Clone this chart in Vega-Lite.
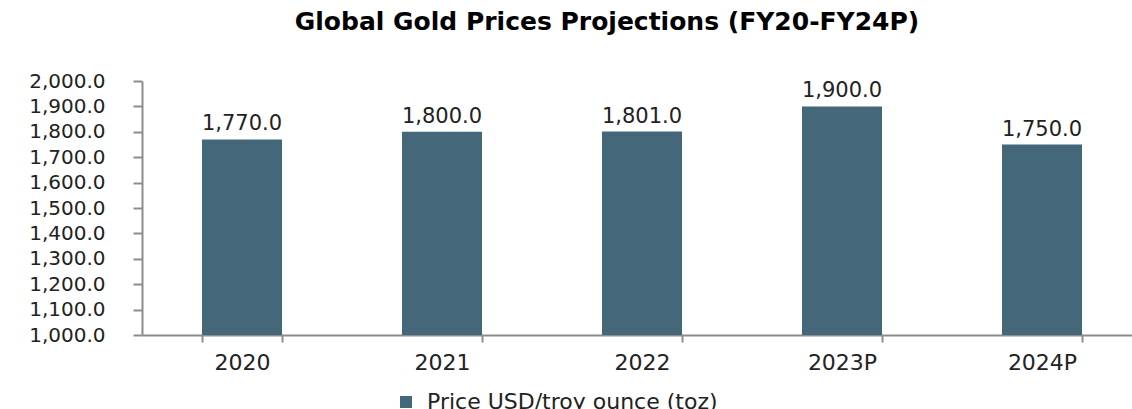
{
  "$schema": "https://vega.github.io/schema/vega-lite/v6.json",
  "width": 1000,
  "height": 254,
  "autosize": "none",
  "padding": {"left": 142, "top": 81, "right": 0, "bottom": 74},
  "background": "white",
  "title": {
    "text": "Global Gold Prices Projections (FY20-FY24P)",
    "font": "DejaVu Sans",
    "fontSize": 25,
    "fontWeight": "bold",
    "color": "#000000",
    "anchor": "middle",
    "baseline": "bottom",
    "dx": -35,
    "dy": 32,
    "offset": 43
  },
  "data": {
    "values": [
      {"year": "2020", "price": 1770.0, "series": "Price USD/troy ounce (toz)"},
      {"year": "2021", "price": 1800.0, "series": "Price USD/troy ounce (toz)"},
      {"year": "2022", "price": 1801.0, "series": "Price USD/troy ounce (toz)"},
      {"year": "2023P", "price": 1900.0, "series": "Price USD/troy ounce (toz)"},
      {"year": "2024P", "price": 1750.0, "series": "Price USD/troy ounce (toz)"}
    ]
  },
  "encoding": {
    "x": {
      "field": "year",
      "type": "nominal",
      "sort": null,
      "scale": {"paddingInner": 0.6, "paddingOuter": 0.3},
      "axis": {
        "title": null,
        "labelAngle": 0,
        "labelFont": "DejaVu Sans",
        "labelFontSize": 22,
        "labelColor": "#222222",
        "labelPadding": 10,
        "tickBand": "extent",
        "tickSize": 7,
        "tickColor": "#8c8c8c",
        "tickWidth": 2,
        "domainColor": "#8c8c8c",
        "domainWidth": 2,
        "grid": false
      }
    },
    "y": {
      "field": "price",
      "type": "quantitative",
      "scale": {"domain": [1000, 2000], "zero": false, "nice": false},
      "axis": {
        "title": null,
        "format": ",.1f",
        "values": [1000, 1100, 1200, 1300, 1400, 1500, 1600, 1700, 1800, 1900, 2000],
        "labelFont": "DejaVu Sans",
        "labelFontSize": 20,
        "labelColor": "#222222",
        "labelPadding": 28,
        "tickSize": 9,
        "tickColor": "#8c8c8c",
        "tickWidth": 2,
        "domainColor": "#8c8c8c",
        "domainWidth": 2,
        "grid": false
      }
    }
  },
  "layer": [
    {
      "mark": {"type": "bar"},
      "encoding": {
        "y2": {"datum": 1000},
        "color": {
          "field": "series",
          "type": "nominal",
          "scale": {"range": ["#45677a"]},
          "legend": {
            "title": null,
            "orient": "none",
            "legendX": 253,
            "legendY": 310,
            "symbolType": "square",
            "symbolSize": 144,
            "symbolStrokeWidth": 0,
            "labelFont": "DejaVu Sans",
            "labelFontSize": 22,
            "labelColor": "#222222",
            "labelOffset": 10,
            "labelLimit": 0
          }
        }
      }
    },
    {
      "mark": {
        "type": "text",
        "baseline": "bottom",
        "dy": -5,
        "font": "DejaVu Sans",
        "fontSize": 21,
        "color": "#222222"
      },
      "encoding": {
        "text": {"field": "price", "type": "quantitative", "format": ",.1f"}
      }
    }
  ],
  "config": {"view": {"stroke": null}}
}
